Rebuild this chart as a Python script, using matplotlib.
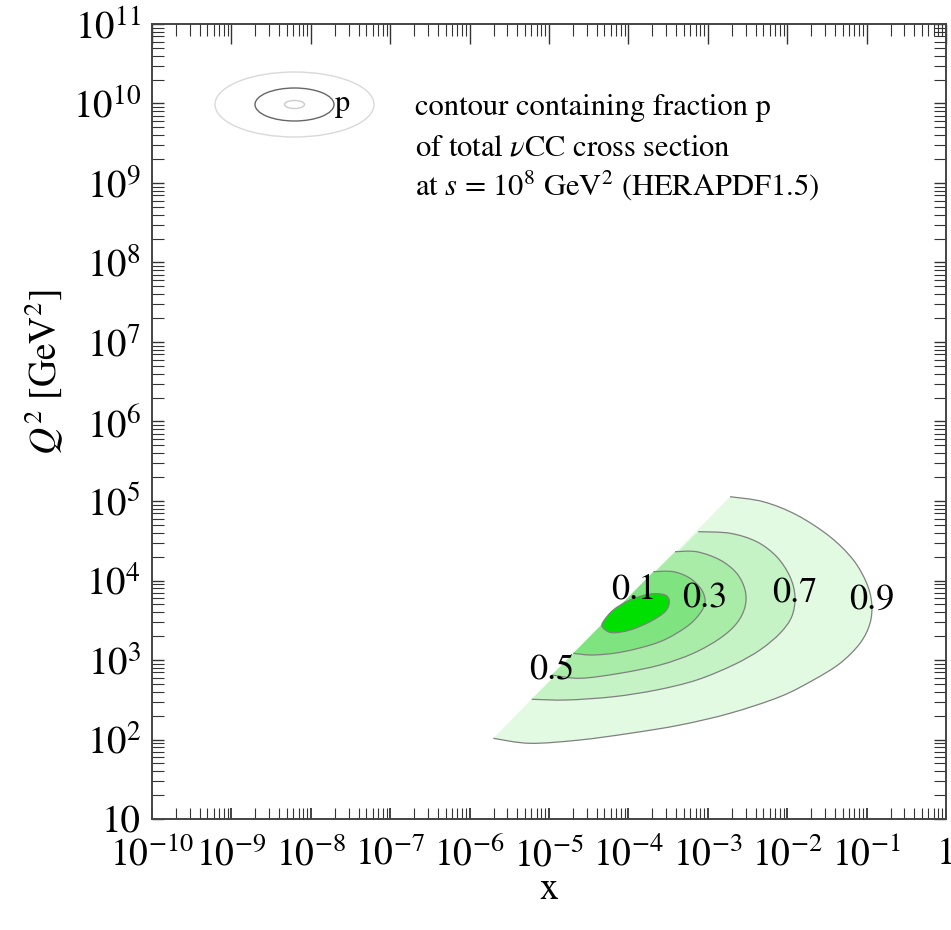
import numpy as np
import matplotlib
matplotlib.use("Agg")
import matplotlib.pyplot as plt
from matplotlib.patches import Ellipse, PathPatch
from matplotlib.path import Path
from matplotlib.ticker import LogLocator, NullFormatter

plt.rcParams['font.family'] = ['STIXGeneral', 'DejaVu Serif']
plt.rcParams['mathtext.fontset'] = 'stix'

# ---- data: contours (log10 x, log10 Q^2) ----
c90_lx = [-2.720, -2.301, -1.880, -1.461, -1.167, -0.999, -0.936, -0.957, -1.083,
          -1.335, -1.671, -2.091, -2.720, -3.350, -3.980, -4.610, -5.239, -5.701]
c90_ly = [5.054, 4.991, 4.824, 4.551, 4.258, 3.965, 3.713, 3.462, 3.210,
          2.958, 2.748, 2.538, 2.330, 2.182, 2.078, 1.994, 1.952, 2.015]

c70_lx = [-3.120, -2.720, -2.384, -2.132, -1.965, -1.902, -1.943, -2.091, -2.343,
          -2.679, -3.140, -3.644, -4.190, -4.777, -5.218]
c70_ly = [4.614, 4.594, 4.488, 4.299, 4.048, 3.796, 3.545, 3.336, 3.126,
          2.937, 2.748, 2.623, 2.538, 2.497, 2.506]

c50_lx = [-3.413, -3.140, -2.846, -2.636, -2.531, -2.531, -2.636, -2.846, -3.183,
          -3.602, -4.106, -4.610, -4.966]
c50_ly = [4.362, 4.362, 4.258, 4.091, 3.881, 3.670, 3.462, 3.273, 3.084,
          2.937, 2.833, 2.770, 2.811]

c30_lx = [-3.686, -3.434, -3.224, -3.077, -3.035, -3.098, -3.266, -3.602, -4.064,
          -4.442, -4.694]
c30_ly = [4.111, 4.111, 4.028, 3.881, 3.730, 3.587, 3.419, 3.230, 3.104,
          3.063, 3.084]

c10_lx = [-4.316, -4.190, -3.980, -3.728, -3.539, -3.485, -3.539, -3.728, -3.980,
          -4.210, -4.324]
c10_ly = [3.482, 3.629, 3.755, 3.830, 3.818, 3.733, 3.608, 3.482, 3.377,
          3.343, 3.411]

levels = ['0.9', '0.7', '0.5', '0.3', '0.1']
fill_colors = ['#e2f9e2', '#c6f3c6', '#a8eca8', '#7fe37f', '#00e000']

x_tick_exp = list(range(-10, 1))
x_tick_labels = [r'$10^{-10}$', r'$10^{-9}$', r'$10^{-8}$', r'$10^{-7}$', r'$10^{-6}$',
                 r'$10^{-5}$', r'$10^{-4}$', r'$10^{-3}$', r'$10^{-2}$', r'$10^{-1}$', '1']
y_tick_exp = list(range(1, 12))
y_tick_labels = ['10', r'$10^{2}$', r'$10^{3}$', r'$10^{4}$', r'$10^{5}$', r'$10^{6}$',
                 r'$10^{7}$', r'$10^{8}$', r'$10^{9}$', r'$10^{10}$', r'$10^{11}$']


def smooth_verts(lx, ly, closed=False):
    """Bezier (Catmull-Rom) path through the read points, built in log space."""
    P = np.column_stack([lx, ly])
    n = len(P)
    verts = [P[0]]
    codes = [Path.MOVETO]
    nseg = n if closed else n - 1
    for i in range(nseg):
        p1 = P[i]
        p2 = P[(i + 1) % n]
        if closed:
            p0 = P[(i - 1) % n]
            p3 = P[(i + 2) % n]
        else:
            p0 = P[i - 1] if i > 0 else P[i]
            p3 = P[i + 2] if i + 2 < n else P[i + 1]
        c1 = p1 + (p2 - p0) / 6.0
        c2 = p2 - (p3 - p1) / 6.0
        verts += [c1, c2, p2]
        codes += [Path.CURVE4] * 3
    return np.array(verts), codes


# ---- figure ----
W, H = 951, 930
fig = plt.figure(figsize=(W / 100, H / 100), dpi=100)
L, R, T, B = 152, 946, 24, 819
ax = fig.add_axes([L / W, (H - B) / H, (R - L) / W, (B - T) / H])
ax.set_xscale('log')
ax.set_yscale('log')
ax.set_xlim(1e-10, 1)
ax.set_ylim(10, 1e11)

contours = [(c90_lx, c90_ly), (c70_lx, c70_ly), (c50_lx, c50_ly),
            (c30_lx, c30_ly), (c10_lx, c10_ly)]
for i, ((lx, ly), col, lab) in enumerate(zip(contours, fill_colors, levels)):
    closed = (lab == '0.1')
    v, c = smooth_verts(lx, ly, closed=closed)
    dv = 10 ** v
    # filled region: smooth curve, closed straight along the kinematic edge
    fv = np.vstack([dv, dv[:1], dv[:1]])
    fc = c + [Path.LINETO, Path.CLOSEPOLY]
    ax.add_patch(PathPatch(Path(fv, fc), facecolor=col, edgecolor='none',
                           transform=ax.transData, zorder=1 + i))
    ax.add_patch(PathPatch(Path(dv, c), facecolor='none', edgecolor='#808080',
                           lw=0.9, transform=ax.transData, zorder=10))

# contour labels placed on the contours
for (lx, ly), lab in zip(contours, levels):
    lx = np.array(lx)
    ly = np.array(ly)
    if lab in ('0.9', '0.7', '0.3'):
        k = int(np.argmax(lx)); off = (0, 2)
    elif lab == '0.5':
        k = len(lx) - 1; off = (0, 3)
    else:
        k = int(np.argmax(ly)); off = (-12, 3)
    ax.annotate(lab, (10 ** lx[k], 10 ** ly[k]), xytext=off, textcoords='offset points',
                ha='center', va='center', fontsize=26, color='black', zorder=20)

# ticks
ax.set_xticks([10.0 ** e for e in x_tick_exp])
ax.set_xticklabels(x_tick_labels)
ax.set_yticks([10.0 ** e for e in y_tick_exp])
ax.set_yticklabels(y_tick_labels)
ax.xaxis.set_minor_locator(LogLocator(base=10, subs=np.arange(2, 10), numticks=300))
ax.yaxis.set_minor_locator(LogLocator(base=10, subs=np.arange(2, 10), numticks=300))
ax.xaxis.set_minor_formatter(NullFormatter())
ax.yaxis.set_minor_formatter(NullFormatter())
ax.tick_params(axis='x', which='both', direction='in', top=False, bottom=True,
               labelsize=27, pad=13, color='#333333')
ax.tick_params(axis='x', which='major', length=8, width=1.3)
ax.tick_params(axis='x', which='minor', length=8, width=0.8)
ax.tick_params(axis='y', which='both', direction='in', left=True, right=True,
               labelsize=28, pad=8, color='#333333')
ax.tick_params(axis='y', which='major', length=8.6, width=1.0)
ax.tick_params(axis='y', which='minor', length=8.6, width=0.8)

axt = ax.twiny()
axt.set_xscale('log')
axt.set_xlim(ax.get_xlim())
axt.set_xticks([10.0 ** e for e in x_tick_exp])
axt.xaxis.set_minor_locator(LogLocator(base=10, subs=np.arange(2, 10), numticks=300))
axt.tick_params(axis='x', which='both', direction='in', labeltop=False, color='#333333')
axt.tick_params(axis='x', which='major', length=14.4, width=1.0)
axt.tick_params(axis='x', which='minor', length=8.6, width=0.8)
axt.xaxis.set_minor_formatter(NullFormatter())

for a in (ax, axt):
    for s in a.spines.values():
        s.set_color('#444444')
        s.set_linewidth(1.2)

ax.set_xlabel('x', fontsize=27)
ax.xaxis.set_label_coords(0.5, (B - 872) / (B - T))
ax.set_ylabel(r'$Q^2$ [GeV$^2$]', fontsize=27)
ax.yaxis.set_label_coords((66 - L) / (R - L), (B - 372) / (B - T))


def ax_xy(px, py):
    return ((px - L) / (R - L), (B - py) / (B - T))


# legend inset (ellipses) in axes coordinates
cx, cy = ax_xy(294.5, 104.5)
for w, h, col in [(159, 65, '#d9d9d9'), (79, 33, '#666666'), (20, 8, '#cccccc')]:
    ax.add_patch(Ellipse((cx, cy), w / (R - L), h / (B - T), transform=ax.transAxes,
                         fill=False, edgecolor=col, lw=1.0, zorder=15))
px_, py_ = ax_xy(335, 104)
ax.text(px_, py_, 'p', transform=ax.transAxes, fontsize=22, ha='left', va='center', zorder=16)

lines = ['contour containing fraction p',
         r'of total $\nu$CC cross section',
         r'at $s$ = 10$^8$ GeV$^2$ (HERAPDF1.5)']
for txt, base in zip(lines, [115, 155, 195]):
    tx, ty = ax_xy(415, base)
    ax.text(tx, ty, txt, transform=ax.transAxes, fontsize=22, ha='left', va='baseline', zorder=16)

fig.savefig('out.png', dpi=100)
